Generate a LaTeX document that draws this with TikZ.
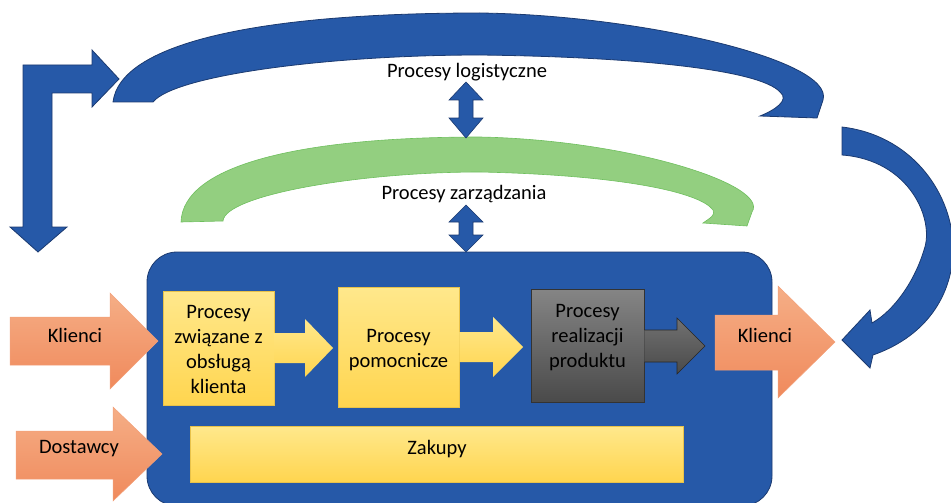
\documentclass[tikz,border=0pt]{standalone}
\usepackage{fontspec}
\setmainfont{Carlito}
\definecolor{myblue}{HTML}{2659A8}
\definecolor{mydark}{HTML}{1B3A70}
\definecolor{mygreen}{HTML}{93CF80}
\definecolor{mygreenb}{HTML}{6FBF5E}
\definecolor{ytop}{HTML}{FFE88C}
\definecolor{ybot}{HTML}{FFD54F}
\definecolor{ybord}{HTML}{E8C24A}
\definecolor{otop}{HTML}{F5AE86}
\definecolor{obot}{HTML}{F08A5C}
\definecolor{obord}{HTML}{F2A07A}
\definecolor{gtop}{HTML}{858585}
\definecolor{gbot}{HTML}{4A4A4A}
\begin{document}
\begin{tikzpicture}[x=1pt,y=-1pt,
  font=\fontsize{20.5}{25}\selectfont,
  blueshape/.style={fill=myblue, draw=mydark, line width=0.8pt, line join=miter},
  greenshape/.style={fill=mygreen, draw=mygreenb, line width=0.6pt},
  orangearrow/.style={top color=otop, bottom color=obot, draw=obord, line width=0.5pt},
  yellowbox/.style={top color=ytop, bottom color=ybot, draw=ybord, line width=0.6pt, align=center, inner sep=0pt},
  yellowarrow/.style={top color=ytop, bottom color=ybot, draw=none},
  graybox/.style={top color=gtop, bottom color=gbot, draw=black!80, line width=0.6pt, align=center, inner sep=0pt},
  grayarrow/.style={top color=gtop!85!black, bottom color=gbot, draw=black!85, line width=0.6pt},
  label/.style={inner sep=0pt, align=center}
]
\useasboundingbox (0,0) rectangle (951,503);

% top logistics arc
\path[blueshape] (113,102) .. controls (120,45) and (250,13) .. (480,13)
  .. controls (640,15) and (835,60) .. (823,100) -- (817,118) -- (760,116)
  .. controls (775,110) and (790,100) .. (780,92)
  .. controls (760,70) and (640,57) .. (480,55)
  .. controls (330,55) and (175,75) .. (153,102) -- cycle;

% management arc
\path[greenshape] (181,222) .. controls (183,165) and (300,137) .. (480,137)
  .. controls (630,140) and (770,185) .. (752,212) -- (747,226) -- (703,223)
  .. controls (710,218) and (716,215) .. (713,210)
  .. controls (700,192) and (620,175) .. (480,172)
  .. controls (360,172) and (225,195) .. (223,221) -- cycle;

% left bent arrow
\path[blueshape] (23,65) -- (92,65) -- (92,50) -- (119,79) -- (92,107) -- (92,93)
  -- (52,93) -- (52,227) -- (67,227) -- (38,252) -- (10,227) -- (23,227) -- cycle;

% right curved arrow
\path[blueshape] (842,127) -- (842,155)
  .. controls (910,160) and (935,220) .. (924,250)
  .. controls (915,280) and (895,310) .. (872,323)
  -- (870,310) -- (842,340) -- (870,368) -- (873,355)
  .. controls (930,335) and (955,290) .. (953,243)
  .. controls (950,190) and (910,135) .. (842,127) -- cycle;

% main rounded area
\path[blueshape, rounded corners=30pt] (147,252) rectangle (772,506);

% double arrows
\path[blueshape, line width=0.6pt] (466,82) -- (483,100) -- (473,100) -- (473,118) -- (483,118)
  -- (466,138) -- (449,118) -- (459,118) -- (459,100) -- (449,100) -- cycle;
\path[blueshape, line width=0.6pt] (466,205) -- (483,222) -- (473,222) -- (473,235) -- (483,235)
  -- (466,252) -- (449,235) -- (459,235) -- (459,222) -- (449,222) -- cycle;

% orange arrows
\path[orangearrow] (10,317) -- (110,317) -- (110,293) -- (158,341) -- (110,389) -- (110,365) -- (10,365) -- cycle;
\path[orangearrow] (16,431) -- (113,431) -- (113,407) -- (162,454) -- (113,501) -- (113,479) -- (16,479) -- cycle;
\path[orangearrow] (715,315) -- (778,315) -- (778,286) -- (835,342) -- (778,398) -- (778,370) -- (715,370) -- cycle;

% process boxes
\node[yellowbox, minimum width=111pt, minimum height=114pt] (b1) at (218.5,348) {};
\node[yellowbox, minimum width=121pt, minimum height=120pt] (b2) at (398.5,347) {};
\node[graybox, minimum width=113pt, minimum height=113pt] (b3) at (587.5,345.5) {};
\node[yellowbox, minimum width=493pt, minimum height=56pt] (zak) at (436.5,454) {};

% arrows between boxes
\path[yellowarrow] (b1.east |- 0,333) -- (305,333) -- (305,319) -- (333,348) -- (305,377) -- (305,363) -- (b1.east |- 0,363) -- cycle;
\path[yellowarrow] (b2.east |- 0,332) -- (493,332) -- (493,317) -- (523,347) -- (493,377) -- (493,362) -- (b2.east |- 0,362) -- cycle;
\path[grayarrow] (b3.east |- 0,330) -- (677,330) -- (677,318) -- (705,346) -- (677,374) -- (677,362) -- (b3.east |- 0,362);

% texts
\node[label] (t1) at (218.5,349) {Procesy\\związane z\\obsługą\\klienta};
\node[label] (t2) at (398.5,350) {Procesy\\pomocnicze};
\node[label] (t3) at (587.5,338) {Procesy\\realizacji\\produktu};
\node[label] (tz) at (437,449) {Zakupy};
\node[label] (kl) at (75,335) {Klienci};
\node[label] (ds) at (79,449) {Dostawcy};
\node[label] (kr) at (765,335) {Klienci};
\node[label] (pl) at (467,72) {Procesy logistyczne};
\node[label] (pz) at (464,194) {Procesy zarządzania};
\end{tikzpicture}
\end{document}
